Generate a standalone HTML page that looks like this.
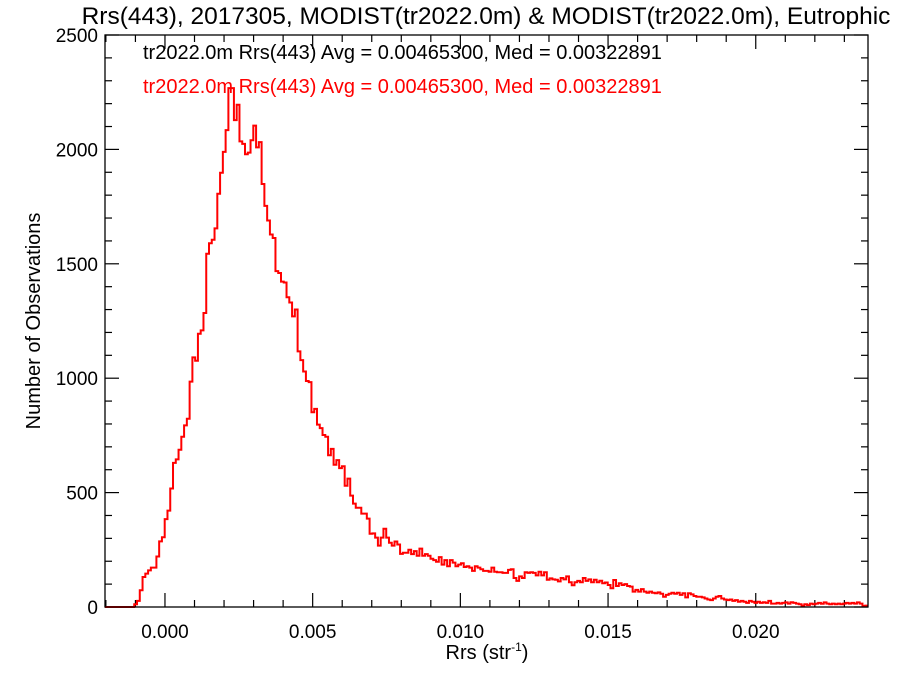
<!DOCTYPE html>
<html><head><meta charset="utf-8"><style>
body{margin:0;background:#fff;}
svg text{font-family:"Liberation Sans",Arial,sans-serif;}
</style></head><body>
<svg id="chart" width="900" height="675" viewBox="0 0 900 675" xmlns="http://www.w3.org/2000/svg">
<rect x="0" y="0" width="900" height="675" fill="#fff"/>
<text x="486" y="24" font-size="24.5" text-anchor="middle" fill="#000">Rrs(443), 2017305, MODIST(tr2022.0m) &amp; MODIST(tr2022.0m), Eutrophic</text>
<text x="143" y="59" font-size="20" fill="#000">tr2022.0m Rrs(443) Avg = 0.00465300, Med = 0.00322891</text>
<text x="143" y="93" font-size="20" fill="#ff0000">tr2022.0m Rrs(443) Avg = 0.00465300, Med = 0.00322891</text>
<text transform="translate(40,321) rotate(-90)" font-size="20" text-anchor="middle" fill="#000">Number of Observations</text>
<text x="487" y="659" font-size="20" text-anchor="middle" fill="#000">Rrs (str<tspan font-size="12" dy="-8">-1</tspan><tspan dy="8">)</tspan></text>
<g id="ticks"></g>
<g id="series"></g>
<rect x="105" y="35" width="763" height="572" fill="none" stroke="#000" stroke-width="1.3"/>
</svg>
<script>
const xTicks=[0.000,0.005,0.010,0.015,0.020];
const xTickLabels=["0.000","0.005","0.010","0.015","0.020"];
const yTicks=[0,500,1000,1500,2000,2500];
const yTickLabels=["0","500","1000","1500","2000","2500"];
const binStart=-0.00104;
const binEnd=0.0238;
const counts=[12,27,73,131,146,160,172,172,221,287,305,384,421,518,630,645,687,744,794,823,985,1091,1076,1194,1209,1285,1544,1590,1605,1655,1806,1898,1989,2084,2268,2268,2128,2195,2035,2024,1979,1986,2040,2104,2009,2032,1849,1753,1689,1628,1613,1468,1460,1422,1418,1354,1331,1270,1300,1117,1079,1029,988,983,851,866,797,782,752,744,663,691,622,642,607,615,530,561,
487,452,434,434,408,408,386,320,322,303,268,303,342,303,281,268,286,273,232,237,237,250,231,244,224,255,224,231,224,211,205,198,218,185,205,178,205,194,178,185,191,175,178,172,158,178,172,165,158,158,154,172,154,152,152,149,149,162,165,127,114,134,127,152,149,152,149,138,154,138,152,119,125,121,119,112,127,121,134,108,95,108,114,108,127,114,121,108,119,108,
115,104,107,96,82,118,92,104,96,100,92,89,67,75,67,78,67,62,67,62,60,64,58,45,53,58,62,58,62,53,60,42,60,55,48,45,45,42,37,33,30,37,45,48,37,33,30,33,27,30,23,27,23,18,27,23,18,23,18,21,18,27,15,15,18,15,18,20,15,21,18,15,12,6,12,8,15,12,15,18,14,20,15,12,15,12,15,12,15,18,15,18,15,20,15,5,6];
const X0=105,X1=868,Y0=607,Y1=35;
const xMin=-0.00203,xMax=0.0238,yMin=0,yMax=2500;
function xs(v){return X0+(v-xMin)/(xMax-xMin)*(X1-X0);}
function ys(v){return Y0-(v-yMin)/(yMax-yMin)*(Y0-Y1);}
const NS="http://www.w3.org/2000/svg";
const tg=document.getElementById('ticks');
function line(x1,y1,x2,y2,name){const l=document.createElementNS(NS,'line');l.setAttribute('x1',x1);l.setAttribute('y1',y1);l.setAttribute('x2',x2);l.setAttribute('y2',y2);l.setAttribute('stroke','#000');l.setAttribute('stroke-width','1.2');


tg.appendChild(l);}
function text(x,y,s,anchor,name){const t=document.createElementNS(NS,'text');t.setAttribute('x',x);t.setAttribute('y',y);t.setAttribute('font-size','19');t.setAttribute('text-anchor',anchor);t.textContent=s;


tg.appendChild(t);}
for(let i=-2;i<=23;i++){const v=i*0.001;const x=xs(v);if(x<X0||x>X1)continue;const major=(i%5===0);const L=major?14:7;line(x,Y0,x,Y0-L,'x-tick');line(x,Y1,x,Y1+L,'x-tick-top');}
xTicks.forEach((v,i)=>text(xs(v),638,xTickLabels[i],'middle','x-tick-label'));
for(let v=0;v<=2500;v+=100){const y=ys(v);const major=(v%500===0);const L=major?14:7;line(X0,y,X0+L,y,'y-tick');line(X1,y,X1-L,y,'y-tick-right');}
yTicks.forEach((v,i)=>text(98,ys(v)+7,yTickLabels[i],'end','y-tick-label'));
const bw=(binEnd-binStart)/counts.length;
let d='M'+xs(xMin)+' '+ys(0)+' L'+xs(binStart)+' '+ys(0);
for(let i=0;i<counts.length;i++){const a=xs(binStart+i*bw),b=xs(binStart+(i+1)*bw),y=ys(counts[i]);d+=' L'+a.toFixed(2)+' '+y.toFixed(2)+' L'+b.toFixed(2)+' '+y.toFixed(2);}
const p=document.createElementNS(NS,'path');p.setAttribute('d',d);p.setAttribute('fill','none');p.setAttribute('stroke','#ff0000');p.setAttribute('stroke-width','2');


document.getElementById('series').appendChild(p);
</script>
</body></html>
